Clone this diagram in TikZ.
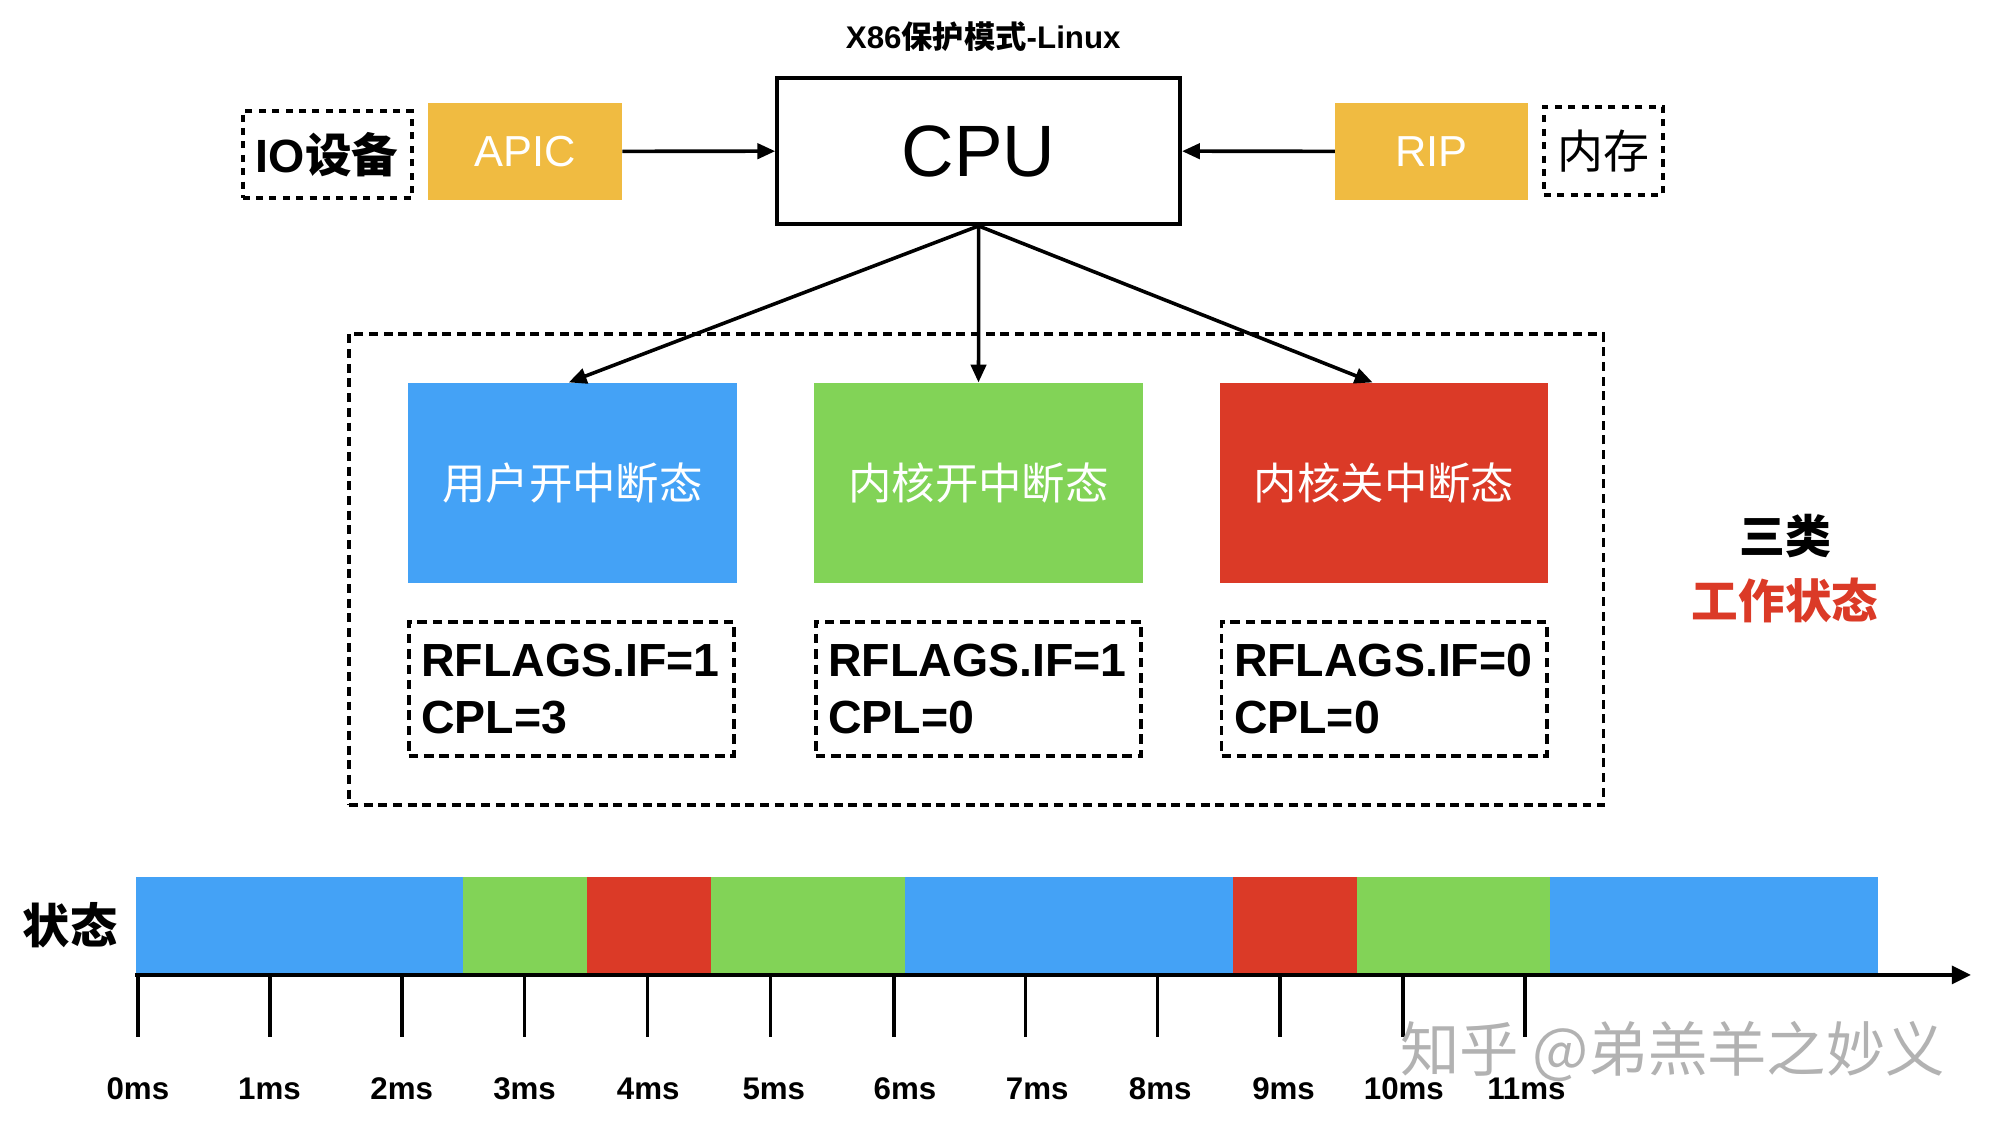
\documentclass[tikz,border=0pt]{standalone}
\usepackage{fontspec}
\setmainfont{Liberation Sans}
\newfontfamily\bfw{Liberation Sans}
\newfontfamily\cjk{Noto Sans CJK SC}
\usetikzlibrary{arrows.meta}
\newcommand\fs[1]{\fontsize{#1}{#1}\selectfont}
\definecolor{cblue}{HTML}{44A2F6}
\definecolor{cgreen}{HTML}{82D357}
\definecolor{cred}{HTML}{DB3A27}
\definecolor{corange}{HTML}{F0BB41}
\begin{document}
\begin{tikzpicture}[x=1pt,y=-1pt,
  arr/.style={line width=2.8pt,-{Triangle[length=14pt,width=12pt]}},
  fillbox/.style={inner sep=0pt, text=white},
  dbox/.style={draw, line width=3pt, dash pattern=on 7.5pt off 4.5pt},
  dsq/.style={draw, line width=3.2pt, dash pattern=on 5.5pt off 5pt},
  bigbox/.style={draw, line width=2.6pt, dash pattern=on 7pt off 4.5pt},
  statebox/.style={fillbox, minimum width=257pt, minimum height=156.6pt, font=\cjk\fs{34}},
  flagbox/.style={dbox, minimum width=254.6pt, minimum height=105.2pt, text width=235pt, align=left, inner xsep=9.7pt, inner ysep=0pt, font=\bfw\bfseries\fontsize{36.4}{44.5}\selectfont},
  ticklab/.style={font=\bfw\bfseries\fs{24.5}, inner sep=0pt},
]
\useasboundingbox (0,0) rectangle (1560,888);

% title
\node[font=\bfw\bfseries\fs{24.5}] (title) at (770,28.7) {X86{\cjk\bfseries 保护模式}-Linux};

% top row
\node[draw, line width=3pt, minimum width=315.6pt, minimum height=114.1pt, inner sep=0pt, font=\fs{57}] (cpu) at (766.4,118.4) {CPU};
\node[dsq, minimum width=132.4pt, minimum height=68.4pt, inner sep=0pt, font=\bfw\bfseries\fs{36.5}] (io) at (256.2,121.1) {IO{\cjk\bfseries 设备}};
\node[fillbox, fill=corange, minimum width=151.8pt, minimum height=76.2pt, font=\fs{34}] (apic) at (411.3,118.5) {APIC};
\node[fillbox, fill=corange, minimum width=151.1pt, minimum height=76.2pt, font=\fs{34}] (rip) at (1121.2,118.5) {RIP};
\node[dsq, minimum width=93.2pt, minimum height=69.2pt, inner sep=0pt, font=\cjk\fs{36}] (mem) at (1255.6,118.1) {内存};

\draw[arr] (apic.east) -- (cpu.west);
\draw[arr] (rip.west) -- (cpu.east);

% big dashed box
\node[bigbox, minimum width=982.6pt, minimum height=368.9pt, inner sep=0pt] (group) at (764.6,445.95) {};

% state boxes
\node[statebox, fill=cblue] (s1) at (448.4,378) {用户开中断态};
\node[statebox, fill=cgreen] (s2) at (766.3,378) {内核开中断态};
\node[statebox, fill=cred] (s3) at (1083.9,378) {内核关中断态};

\draw[arr] (cpu.south) -- ([xshift=-3pt]s1.north);
\draw[arr] (cpu.south) -- (s2.north);
\draw[arr] (cpu.south) -- ([xshift=-9pt]s3.north);

% flag boxes
\node[flagbox] (f1) at (447.3,539.4) {RFLAGS.IF=1\\CPL=3};
\node[flagbox] (f2) at (766.2,539.4) {RFLAGS.IF=1\\CPL=0};
\node[flagbox] (f3) at (1083.9,539.4) {RFLAGS.IF=0\\CPL=0};

% side labels
\node[font=\cjk\bfseries\fs{36}] (three) at (1398,419.7) {三类};
\node[font=\cjk\bfseries\fs{36.5}, text=cred] (work) at (1398,470) {工作状态};

% timeline
\node[font=\cjk\bfseries\fs{37}] (state) at (55,724.4) {状态};
\fill[cblue]  (106.2,686.8) rectangle (362.4,761.7);
\fill[cgreen] (362.4,686.8) rectangle (459.5,761.7);
\fill[cred]   (459.5,686.8) rectangle (556.6,761.7);
\fill[cgreen] (556.6,686.8) rectangle (708.5,761.7);
\fill[cblue]  (708.5,686.8) rectangle (965.9,761.7);
\fill[cred]   (965.9,686.8) rectangle (1062.4,761.7);
\fill[cgreen] (1062.4,686.8) rectangle (1213.6,761.7);
\fill[cblue]  (1213.6,686.8) rectangle (1470.6,761.7);

\coordinate (ax0) at (106,763.5);
\coordinate (ax1) at (1543.5,763.5);
\draw[line width=3pt, -{Triangle[length=15pt,width=14pt]}] (ax0) -- (ax1);

\foreach \x in {108,211.4,314.8,411,507.1,603.4,700,802.9,906.4,1002.5,1098.6,1194.2}
  \draw[line width=2.6pt] (\x,763.5) -- (\x,811.8);

\foreach \x/\t in {108/0,211/1,314.6/2,410.8/3,507.7/4,606/5,708.7/6,812.3/7,908.6/8,1005.2/9,1099.4/10,1195.4/11}
  \node[ticklab] (lab\t) at (\x,852.8) {\t ms};

% watermark
\node[font=\cjk\fs{46.5}, text=black!30, inner sep=0pt] (wm) at (1310,823.5) {知乎 @弟羔羊之妙义};
\end{tikzpicture}
\end{document}
